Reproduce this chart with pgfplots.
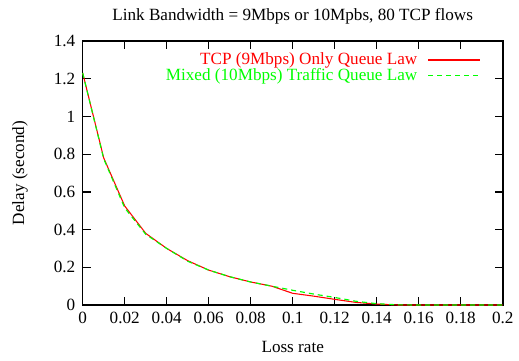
\documentclass[border=0pt]{standalone}
\usepackage{fontspec}
\setmainfont{Liberation Serif}
\usepackage{pgfplots}
\pgfplotsset{compat=1.18}
\definecolor{gpred}{RGB}{255,0,0}
\definecolor{gpgreen}{RGB}{0,255,0}
\begin{document}
\fontsize{12}{14}\selectfont
\begin{tikzpicture}
\useasboundingbox (-57.9pt,-38.5pt) rectangle (305.4pt,213.5pt);
\begin{axis}[
  scale only axis,
  width=294pt, height=184.8pt,
  at={(0,0)}, anchor=south west,
  xmin=0, xmax=0.2, ymin=0, ymax=1.4,
  xtick={0,0.02,...,0.2},
  ytick={0,0.2,...,1.4},
  xticklabels={0,0.02,0.04,0.06,0.08,0.1,0.12,0.14,0.16,0.18,0.2},
  yticklabels={0,0.2,0.4,0.6,0.8,1,1.2,1.4},
  /pgf/number format/assume math mode=true,
  tick align=inside,
  major tick length=5.6pt,
  minor tick num=0,
  every tick/.style={black, line width=0.9pt},
  axis line style={line width=1.1pt},
  tick label style={font=\fontsize{12}{14}\selectfont},
  xticklabel style={yshift=-1pt},
  yticklabel style={xshift=-1pt},
  xlabel={Loss rate},
  ylabel={Delay (second)},
  xlabel style={at={(axis description cs:0.5,-0.159)}, anchor=center},
  ylabel style={at={(axis description cs:-0.1493,0.5)}, anchor=center, rotate=0},
  label style={font=\fontsize{12}{14}\selectfont},
  title={Link Bandwidth = 9Mbps or 10Mpbs, 80 TCP flows},
  title style={at={(axis description cs:0.5,1)}, anchor=center, yshift=11.2pt, font=\fontsize{12}{14}\selectfont},
  legend plot pos=right,
  legend cell align=right,
  legend style={at={(rel axis cs:0.948,0.958)}, anchor=north east, draw=none, fill=none,
    inner sep=0pt, nodes={inner sep=0.3pt}, column sep=7pt, row sep=0pt,
    font=\fontsize{12}{14}\selectfont},
  clip=false,
]
\addplot[gpred, line width=0.75pt,
  legend image code/.code={\draw[gpred, line width=0.8pt] (0pt,0pt) -- (36pt,0pt);}] coordinates {
(0,1.23) (0.01,0.78) (0.02,0.525) (0.03,0.38) (0.04,0.30) (0.05,0.235)
(0.06,0.185) (0.07,0.15) (0.08,0.122) (0.09,0.10) (0.10,0.062) (0.11,0.047)
(0.12,0.030) (0.13,0.014) (0.14,0.005) (0.15,0) (0.16,0) (0.17,0) (0.18,0)
(0.19,0) (0.2,0)};
\addlegendentry{\textcolor{gpred}{TCP (9Mbps) Only Queue Law}}
\addplot[gpgreen, line width=0.8pt, dash pattern=on 3.5pt off 2.8pt,
  legend image code/.code={\draw[gpgreen, line width=1pt, dash pattern=on 3.5pt off 2.8pt] (0pt,0pt) -- (36pt,0pt);}] coordinates {
(0,1.23) (0.01,0.775) (0.02,0.515) (0.03,0.375) (0.04,0.30) (0.05,0.232)
(0.06,0.185) (0.07,0.15) (0.08,0.122) (0.09,0.10) (0.10,0.078) (0.11,0.058)
(0.12,0.040) (0.13,0.02) (0.14,0.007) (0.15,0.001) (0.16,0) (0.17,0) (0.18,0)
(0.19,0) (0.2,0)};
\addlegendentry{\textcolor{gpgreen}{Mixed (10Mbps) Traffic Queue Law}}
\end{axis}
\end{tikzpicture}
\end{document}
